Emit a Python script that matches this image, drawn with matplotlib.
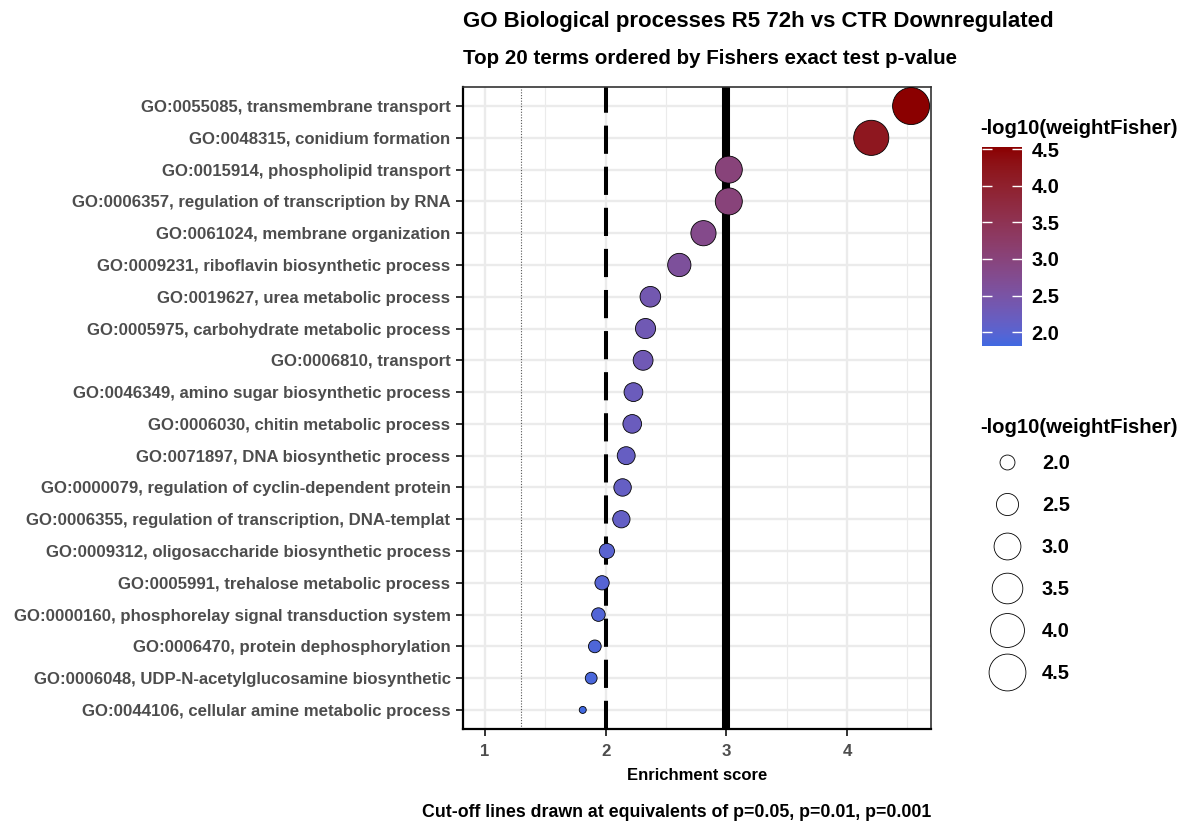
import numpy as np
import matplotlib
matplotlib.use('Agg')
import matplotlib.pyplot as plt
from matplotlib.colors import ListedColormap, Normalize
from matplotlib.lines import Line2D

plt.rcParams['font.family'] = ['Liberation Sans', 'DejaVu Sans']

# GO terms, top to bottom as shown
terms = [
    "GO:0055085, transmembrane transport",
    "GO:0048315, conidium formation",
    "GO:0015914, phospholipid transport",
    "GO:0006357, regulation of transcription by RNA",
    "GO:0061024, membrane organization",
    "GO:0009231, riboflavin biosynthetic process",
    "GO:0019627, urea metabolic process",
    "GO:0005975, carbohydrate metabolic process",
    "GO:0006810, transport",
    "GO:0046349, amino sugar biosynthetic process",
    "GO:0006030, chitin metabolic process",
    "GO:0071897, DNA biosynthetic process",
    "GO:0000079, regulation of cyclin-dependent protein",
    "GO:0006355, regulation of transcription, DNA-templat",
    "GO:0009312, oligosaccharide biosynthetic process",
    "GO:0005991, trehalose metabolic process",
    "GO:0000160, phosphorelay signal transduction system",
    "GO:0006470, protein dephosphorylation",
    "GO:0006048, UDP-N-acetylglucosamine biosynthetic",
    "GO:0044106, cellular amine metabolic process",
]
# -log10(weightFisher), used for x, colour and size
scores = [4.53, 4.20, 3.02, 3.02, 2.81, 2.61, 2.37, 2.33, 2.31, 2.23,
          2.22, 2.17, 2.14, 2.13, 2.01, 1.97, 1.94, 1.91, 1.88, 1.81]

cutoffs = [0.05, 0.01, 0.001]
legend_vals = [2.0, 2.5, 3.0, 3.5, 4.0, 4.5]
x_ticks = [1, 2, 3, 4]

title = "GO Biological processes R5 72h vs CTR Downregulated"
subtitle = "Top 20 terms ordered by Fishers exact test p-value"
caption = "Cut-off lines drawn at equivalents of p=0.05, p=0.01, p=0.001"
legend_title = "-log10(weightFisher)"


# ---- colour gradient in Lab space (like ggplot's scale_colour_gradient) ----
WHITE = np.array([0.95047, 1.0, 1.08883])
M = np.array([[0.4124, 0.3576, 0.1805],
              [0.2126, 0.7152, 0.0722],
              [0.0193, 0.1192, 0.9505]])


def hex_to_lab(h):
    rgb = np.array([int(h[i:i + 2], 16) / 255. for i in (1, 3, 5)])
    lin = np.where(rgb <= 0.04045, rgb / 12.92, ((rgb + 0.055) / 1.055) ** 2.4)
    xyz = M @ lin / WHITE
    f = np.where(xyz > 0.008856, np.cbrt(xyz), 7.787 * xyz + 16 / 116.)
    return np.array([116 * f[1] - 16, 500 * (f[0] - f[1]), 200 * (f[1] - f[2])])


def lab_to_rgb(lab):
    fy = (lab[0] + 16) / 116.
    fx = fy + lab[1] / 500.
    fz = fy - lab[2] / 200.
    f = np.array([fx, fy, fz])
    xyz = np.where(f ** 3 > 0.008856, f ** 3, (f - 16 / 116.) / 7.787) * WHITE
    lin = np.linalg.solve(M, xyz)
    lin = np.clip(lin, 0, 1)
    rgb = np.where(lin <= 0.0031308, 12.92 * lin, 1.055 * lin ** (1 / 2.4) - 0.055)
    return np.clip(rgb, 0, 1)


lo, hi = hex_to_lab("#4169E1"), hex_to_lab("#8B0000")
cmap = ListedColormap([lab_to_rgb(lo + (hi - lo) * t) for t in np.linspace(0, 1, 256)])

vmin, vmax = min(scores), max(scores)
norm = Normalize(vmin, vmax)


def diam_px(v):
    t = (np.asarray(v) - vmin) / (vmax - vmin)
    return 7 + 30 * np.sqrt(np.clip(t, 0, 1))


def area(v):
    return (diam_px(v) * 0.72) ** 2


fig = plt.figure(figsize=(11.85, 8.22), dpi=100)
W, H = 1185., 822.
ax = fig.add_axes([463 / W, 1 - 729 / H, 468 / W, 642 / H])

n = len(terms)
ypos = np.arange(n)[::-1]

ax.set_xlim(0.818, 4.695)
ax.set_ylim(-0.6, n - 0.4)

ax.set_xticks(x_ticks)
ax.set_xticks([1.5, 2.5, 3.5, 4.5], minor=True)
ax.set_yticks(ypos)
ax.set_yticklabels(terms)
ax.grid(True, which='major', color='#EBEBEB', lw=1.7, zorder=0)
ax.grid(True, which='minor', axis='x', color='#EBEBEB', lw=0.8, zorder=0)
ax.set_axisbelow(True)

# cut-off lines
cut_x = [-np.log10(p) for p in cutoffs]
ax.axvline(cut_x[0], color='#555555', lw=0.8, ls=(0, (1, 1.5)), zorder=1)
ax.axvline(cut_x[1], color='black', lw=2.9, ls=(0, (7, 3.2)), zorder=1)
ax.axvline(cut_x[2], color='black', lw=5.8, zorder=1)

ax.scatter(scores, ypos, s=area(scores), c=scores, cmap=cmap, norm=norm,
           edgecolors='black', linewidths=0.6, zorder=3)

for sp in ax.spines.values():
    sp.set_color('#333333')
    sp.set_linewidth(1.2)
ax.spines['left'].set_color('black')
ax.spines['bottom'].set_color('black')
ax.spines['left'].set_linewidth(1.6)
ax.spines['bottom'].set_linewidth(1.6)

ax.tick_params(axis='both', which='major', length=5, width=1.4, color='#333333',
               labelcolor='#4D4D4D', labelsize=12.1)
ax.tick_params(axis='x', which='minor', length=0)
ax.tick_params(axis='y', pad=4)
ax.tick_params(axis='x', pad=6)
for lab in ax.get_xticklabels() + ax.get_yticklabels():
    lab.set_fontweight('bold')

ax.set_xlabel("Enrichment score", fontsize=12, fontweight='bold', labelpad=6)

fig.text(463 / W, 1 - 21 / H, title, ha='left', va='center', fontsize=16, fontweight='bold')
fig.text(463 / W, 1 - 59 / H, subtitle, ha='left', va='center', fontsize=14.8, fontweight='bold')
fig.text(931 / W, 1 - 812 / H, caption, ha='right', va='center', fontsize=12.8, fontweight='bold')

# colour bar
cax = fig.add_axes([982 / W, 1 - 346 / H, 40 / W, 199 / H])
sm = plt.cm.ScalarMappable(norm=norm, cmap=cmap)
cb = fig.colorbar(sm, cax=cax, ticks=legend_vals)
cb.outline.set_visible(False)
cax.set_yticklabels(["%.1f" % v for v in legend_vals])
cax.tick_params(axis='y', left=True, right=True, direction='in', length=7, width=1,
                color='white', labelsize=14.4, pad=7)
for lab in cax.get_yticklabels():
    lab.set_fontweight('bold')
fig.text(980 / W, 1 - 129 / H, legend_title, ha='left', va='center', fontsize=14.6, fontweight='bold')

# size legend
fig.text(980 / W, 1 - 427 / H, legend_title, ha='left', va='center', fontsize=14.6, fontweight='bold')
handles = [Line2D([], [], ls='none', marker='o', markerfacecolor='white', markeredgecolor='black',
                  markeredgewidth=0.6, markersize=diam_px(v) * 0.72) for v in legend_vals]
leg = fig.legend(handles, ["%.1f" % v for v in legend_vals],
                 loc='center left', bbox_to_anchor=(980 / W, 1 - 568 / H), frameon=False,
                 prop={'size': 14.4, 'weight': 'bold'}, labelspacing=1.15, handletextpad=0.4,
                 handlelength=2.7, borderpad=0, borderaxespad=0)

fig.savefig("out.png", dpi=100)
